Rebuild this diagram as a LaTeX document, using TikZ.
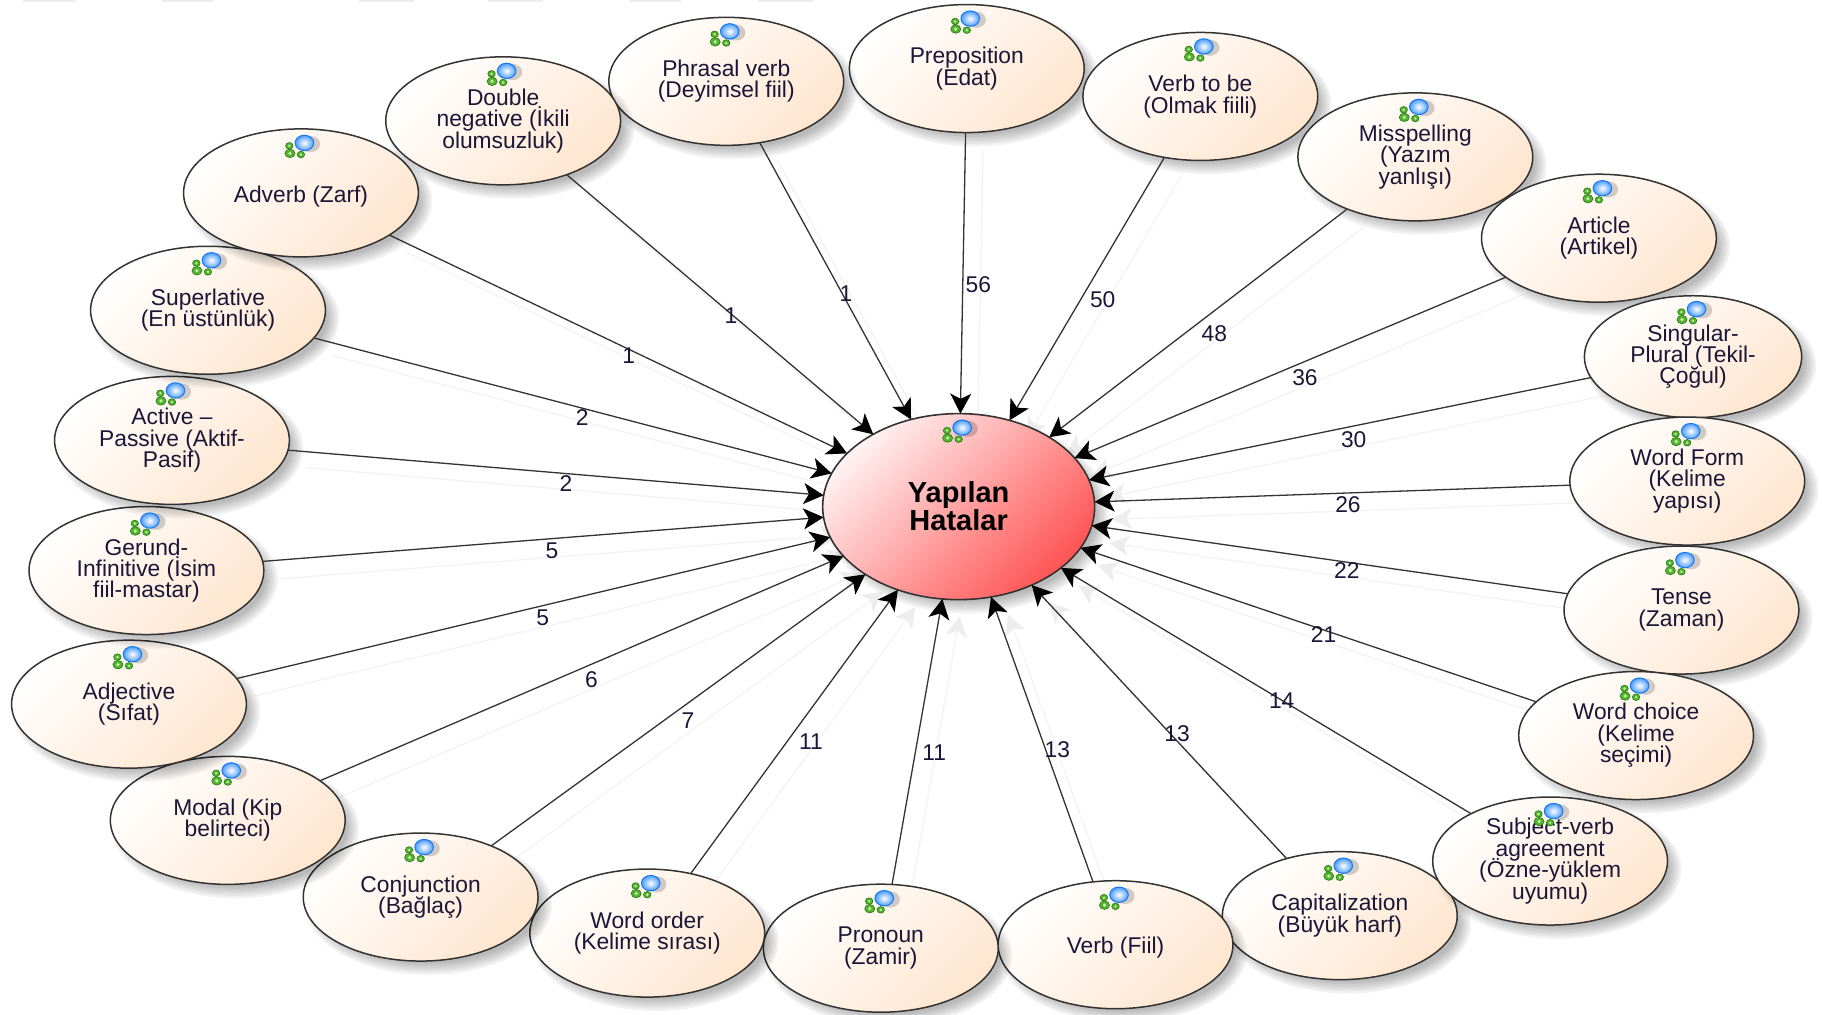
\documentclass[tikz,border=0pt]{standalone}
\usepackage{fontspec}
\setmainfont{Liberation Sans}
\usetikzlibrary{arrows.meta,shapes.geometric,calc}
\pgfdeclarelayer{bg}
\pgfsetlayers{bg,main}
\lineskiplimit=-5pt
\definecolor{ink}{HTML}{1A1638}
\definecolor{peach}{HTML}{FFE6CF}
\definecolor{hubred}{HTML}{FF5454}
\definecolor{hubtop}{HTML}{FFF2F2}
\definecolor{edge}{HTML}{333333}
\definecolor{ghost}{HTML}{F3F3F3}
\definecolor{ghosttip}{HTML}{EDEDED}
\definecolor{leaf}{HTML}{55B52E}
\definecolor{leafdark}{HTML}{2E7D1A}
\definecolor{leaflight}{HTML}{C8F0B0}
\definecolor{orbring}{HTML}{1478F0}
\tikzset{
  x=0.581pt,y=-0.581pt,
  sat/.style={ellipse,draw=edge,line width=0.75pt,minimum width=117.4pt,minimum height=64pt,inner sep=0pt,outer sep=0pt,
    top color=white,bottom color=peach,shading angle=45,align=center,text=ink,
    font=\fontsize{11.4}{10.7}\selectfont},
  liftup/.style={execute at end node={\\[-6pt]\null}},
  narrowsat/.style={minimum width=108.6pt,minimum height=61pt},
  hubnode/.style={ellipse,draw=edge,line width=0.8pt,minimum width=136pt,minimum height=93pt,inner sep=0pt,outer sep=0pt,
    top color=hubtop,bottom color=hubred,shading angle=45,align=center,text=black,
    font=\fontsize{14.5}{14}\selectfont\bfseries,execute at end node={\\[-7pt]\null}},
  conn/.style={draw=edge,line width=0.65pt,-{Stealth[length=10pt,width=10.5pt,inset=2.6pt,color=black]}},
  connshadow/.style={draw=ghost,line width=0.65pt,-{Stealth[length=10pt,width=10.5pt,inset=2.6pt,color=ghosttip]},transform canvas={xshift=8.7pt,yshift=-8.7pt}},
  lab/.style={text=ink,inner sep=0pt,font=\fontsize{11.4}{12}\selectfont},
  topbar/.style={fill=black!7,draw=none}
}
\newcommand\blurshadow[4]{% x y rx ry
  \foreach \d in {5,3,1,-1,-3,-5}
    {\fill[black,opacity=0.05] ($(#1,#2)+(7,7)$) ellipse [x radius=#3+\d,y radius=#4+\d];}}
\newcommand\glyph[1]{%
  \begin{scope}[shift={(#1)}]
    \fill[black,opacity=.18] (5,1) ellipse [x radius=8.5,y radius=7];
    \filldraw[draw=leafdark,fill=leaf,line width=.35pt] (-13,2.5) ellipse [x radius=3.2,y radius=2.8];
    \filldraw[draw=leafdark,fill=leaf,line width=.35pt] (-12.5,9) ellipse [x radius=4.3,y radius=3.6];
    \filldraw[draw=leafdark,fill=leaf,line width=.35pt] (-3,10) ellipse [x radius=3.2,y radius=2.8];
    \fill[leaflight] (-13,2.5) circle [radius=1.1];
    \fill[leaflight] (-12.5,9) circle [radius=1.5];
    \fill[leaflight] (-3,10) circle [radius=1.1];
    \shade[inner color=white,outer color=cyan!45!blue!70,draw=orbring,line width=.5pt] (0,0) ellipse [x radius=8,y radius=6.6];
  \end{scope}}
\newcommand\satnode[4]{% name x y text
  \blurshadow{#2}{#3}{101}{55}
  \node[sat,liftup] (#1) at (#2,#3) {#4};}
\begin{document}
\begin{tikzpicture}
\useasboundingbox (0,0) rectangle (1568,873.5);
\foreach \a/\b in {20/65,139/183,309/356,420/467,541/586,652/700}
  {\fill[topbar] (\a,0) rectangle (\b,2);}

\blurshadow{825}{436}{117}{80}
\node[hubnode] (hub) at (825,436) {Yapılan\\Hatalar};

\satnode{prep}{832}{59}{Preposition\\(Edat)}
\satnode{tobe}{1033}{83}{Verb to be\\(Olmak fiili)}
\satnode{miss}{1218}{135}{Misspelling\\(Yazım\\yanlışı)}
\satnode{art}{1376}{205}{Article\\(Artikel)}
\blurshadow{1457}{307}{94}{53}
\node[sat,liftup,narrowsat] (sing) at (1457,307) {Singular-\\Plural (Tekil-\\Çoğul)};
\satnode{form}{1452}{414}{Word Form\\(Kelime\\yapısı)}
\satnode{tense}{1447}{525}{Tense\\(Zaman)}
\satnode{choice}{1408}{633}{Word choice\\(Kelime\\seçimi)}
\satnode{cap}{1153}{788}{Capitalization\\(Büyük harf)}
\satnode{sv}{1334}{741}{Subject-verb\\agreement\\(Özne-yüklem\\uyumu)}
\blurshadow{960}{813}{101}{55}
\node[sat,text height=10.7pt] (verb) at (960,813) {Verb (Fiil)};
\satnode{pron}{758}{816}{Pronoun\\(Zamir)}
\satnode{order}{557}{803}{Word order\\(Kelime sırası)}
\satnode{conj}{362}{772}{Conjunction\\(Bağlaç)}
\satnode{modal}{196}{706}{Modal (Kip\\belirteci)}
\satnode{adj}{111}{606}{Adjective\\(Sıfat)}
\satnode{ger}{126}{491}{Gerund-\\Infinitive (İsim\\fiil-mastar)}
\satnode{act}{148}{379}{Active –\\Passive (Aktif-\\Pasif)}
\satnode{sup}{179}{267}{Superlative\\(En üstünlük)}
\blurshadow{259}{166}{101}{55}
\node[sat,text height=11.7pt] (adv) at (259,166) {Adverb (Zarf)};
\satnode{phr}{625}{70}{Phrasal verb\\(Deyimsel fiil)}
\satnode{dbl}{433}{104}{Double\\negative (İkili\\olumsuzluk)}

\begin{pgfonlayer}{bg}
\foreach \n in {prep,tobe,miss,art,sing,form,tense,choice,sv,cap,verb,pron,order,conj,modal,adj,ger,act,sup,adv,dbl,phr}
  {\draw[connshadow] (\n) -- (hub);}
\end{pgfonlayer}
\foreach \n in {prep,tobe,miss,art,sing,form,tense,choice,sv,cap,verb,pron,order,conj,modal,adj,ger,act,sup,adv,dbl,phr}
  {\draw[conn] (\n) -- (hub);}

\foreach \n in {prep,tobe,miss,art,form,tense,choice,sv,cap,verb,pron,order,conj,modal,adj,ger,act,sup,adv,dbl,phr}
  {\glyph{$(\n.center)+(3,-43)$}}
\glyph{$(sing.center)+(3,-41)$}
\glyph{$(hub.center)+(3,-68)$}

\foreach \nm/\x/\y/\t in {a/842/245/56,b/949/258/50,c/1045/287/48,d/1123/325/36,e/1165/378/30,f/1160/434/26,g/1159/491/22,h/1139/546/21,i/1103/603/14,j/1013/631/13,k/910/645/13,l/804/648/11,m/698/638/11,n/592/620/7,o/509/585/6,p/467/532/5,q/475/474/5,r/487/416/2,s/501/359/2,t/541/306/1,u/629/272/1,v/728/253/1}
  {\node[lab] (lab\nm) at (\x,\y) {\t};}
\end{tikzpicture}
\end{document}
